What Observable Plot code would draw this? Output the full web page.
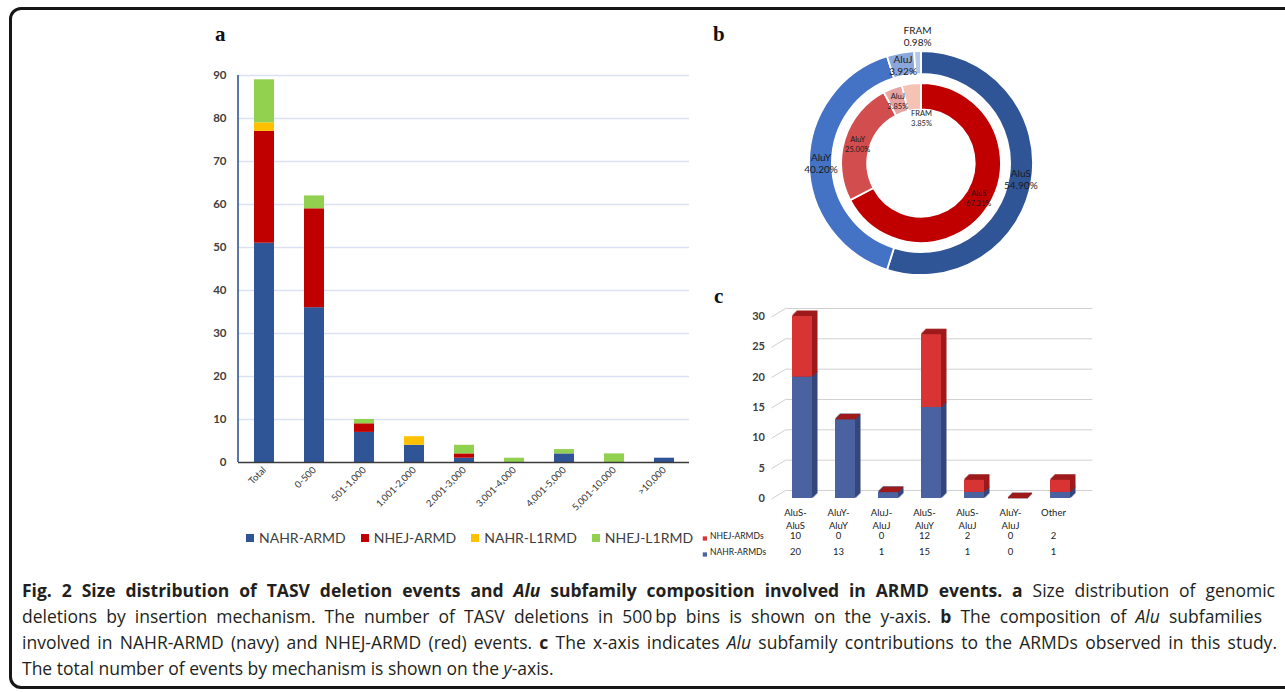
<!DOCTYPE html>
<html><head><meta charset="utf-8">
<script src="https://cdn.jsdelivr.net/npm/d3@7"></script>
<script src="https://cdn.jsdelivr.net/npm/@observablehq/plot@0.6"></script>
<style>
html,body{margin:0;padding:0;background:#fff}
#page{position:relative;width:1285px;height:692px;overflow:hidden;font-family:"Open Sans",Lato,sans-serif;color:#222}
#frame{position:absolute;left:9px;top:7px;width:1330px;height:682px;border:3px solid #161616;border-radius:12px;box-sizing:border-box}
.panel{position:absolute}
.plab{position:absolute;font-family:"Liberation Serif","DejaVu Serif",serif;font-weight:bold;font-size:21px;line-height:1;color:#111}
#legendA{position:absolute;left:246px;top:529px;display:flex;gap:15px;font-family:Lato,sans-serif;font-size:14px;color:#404040;align-items:center;white-space:nowrap}
#legendA .sw{display:inline-block;width:8px;height:8px;margin-right:5px}
.cap{position:absolute;left:22px;font-size:17.5px;line-height:24px;color:#231f20;white-space:nowrap}
.cap b{font-size:17.5px;letter-spacing:0}
.just{text-align:justify;text-align-last:justify}
</style></head>
<body><div id="page">
<div id="frame"></div>
<div class="plab" style="left:215px;top:24px">a</div>
<div class="plab" style="left:713px;top:24px">b</div>
<div class="plab" style="left:714px;top:286px">c</div>
<div id="panelA" class="panel" style="left:180px;top:60px"></div>
<div id="legendA"></div>
<div id="panelB" class="panel" style="left:790px;top:20px"></div>
<div id="panelC" class="panel" style="left:690px;top:300px"></div>
<div class="cap just" style="top:578px;width:1253px"><b>Fig. 2 Size distribution of TASV deletion events and <i>Alu</i> subfamily composition involved in ARMD events. a</b> Size distribution of genomic</div>
<div class="cap just" style="top:604px;width:1240px">deletions by insertion mechanism. The number of TASV deletions in 500&#8201;bp bins is shown on the y-axis. <b>b</b> The composition of <i>Alu</i> subfamilies</div>
<div class="cap just" style="top:630px;width:1255px">involved in NAHR-ARMD (navy) and NHEJ-ARMD (red) events. <b>c</b> The x-axis indicates <i>Alu</i> subfamily contributions to the ARMDs observed in this study.</div>
<div class="cap" style="top:656px">The total number of events by mechanism is shown on the <i>y</i>-axis.</div>
</div>
<script>
// ---------- Panel a data ----------
const sizeBins = ["Total","0-500","501-1,000","1,001-2,000","2,001-3,000","3,001-4,000","4,001-5,000","5,001-10,000",">10,000"];
const mechanisms = ["NAHR-ARMD","NHEJ-ARMD","NAHR-L1RMD","NHEJ-L1RMD"];
const nahrArmd = [51,36,7,4,1,0,2,0,1];
const nhejArmd = [26,23,2,0,1,0,0,0,0];
const nahrL1rmd = [2,0,0,2,0,0,0,0,0];
const nhejL1rmd = [10,3,1,0,2,1,1,2,0];
const mechColors = ["#2F5597","#C00000","#FFC000","#92D050"];
const yTicksA = [0,10,20,30,40,50,60,70,80,90];

// ---------- Panel b data ----------
const subfamilies = ["AluS","AluY","AluJ","FRAM"];
const nahrPct = [54.90,40.20,3.92,0.98];   // outer ring (NAHR-ARMD)
const nhejPct = [67.31,25.00,3.85,3.85];   // inner ring (NHEJ-ARMD)
const outerColors = ["#2F5597","#4472C4","#8AA6DA","#B4C7E7"];
const innerColors = ["#C00000","#D24E4E","#E8A3A3","#F5C3B3"];

// ---------- Panel c data ----------
const pairCats = ["AluS-AluS","AluY-AluY","AluJ-AluJ","AluS-AluY","AluS-AluJ","AluY-AluJ","Other"];
const seriesC = ["NAHR-ARMDs","NHEJ-ARMDs"];
const nahrArmds = [20,13,1,15,1,0,1];
const nhejArmds = [10,0,0,12,2,0,2];
const frontColorsC = ["#4A62A0","#D83434"];
const depthColorsC = ["#33477A","#9E1A1A"];
const yTicksC = [0,5,10,15,20,25,30];

const font = "Lato, 'Open Sans', sans-serif";

// ===== Panel a =====
const seriesA = [nahrArmd, nhejArmd, nahrL1rmd, nhejL1rmd];
const rowsA = mechanisms.flatMap((m, i) => sizeBins.map((b, j) => ({bin: b, mech: m, value: seriesA[i][j]})));
const plotA = Plot.plot({
  width: 520, height: 460,
  marginLeft: 58, marginRight: 11, marginTop: 15, marginBottom: 58,
  style: {fontFamily: font, background: "transparent", color: "#333"},
  x: {domain: sizeBins, paddingInner: 0.6, paddingOuter: 0.3, label: null, axis: null},
  y: {domain: [0, 90], label: null, axis: null},
  color: {domain: mechanisms, range: mechColors},
  marks: [
    Plot.ruleY(yTicksA.filter(d => d > 0), {stroke: "#D9E1F2", strokeWidth: 1.3}),
    Plot.barY(rowsA, {x: "bin", y: "value", fill: "mech"}),
    Plot.ruleY([0], {stroke: "#3a3a3a", strokeWidth: 1.6}),
    (index, scales, values, dim) => {
      const g = d3.create("svg:g");
      g.append("line").attr("x1", dim.marginLeft).attr("x2", dim.marginLeft)
        .attr("y1", scales.y(90)).attr("y2", scales.y(0))
        .attr("stroke", "#2F5597").attr("stroke-width", 1.6);
      return g.node();
    },
    Plot.axisY(yTicksA, {tickSize: 0, tickPadding: 12, fontSize: 11.5, fontWeight: "bold", fill: "#404040", label: null}),
    Plot.axisX({tickSize: 0, tickPadding: 6, tickRotate: -45, fontSize: 9.5, fill: "#333", label: null})
  ]
});
document.getElementById("panelA").append(plotA);

// legend a
const legA = document.getElementById("legendA");
mechanisms.forEach((m, i) => {
  const it = document.createElement("span");
  it.style.display = "inline-flex"; it.style.alignItems = "center";
  const sw = document.createElement("span"); sw.className = "sw"; sw.style.background = mechColors[i];
  it.append(sw, document.createTextNode(m));
  legA.append(it);
});

// ===== Panel b =====
const rings = [
  {names: subfamilies, pct: nahrPct, colors: outerColors, r0: 0.68, r1: 0.855, smallR: 0.975},
  {names: subfamilies, pct: nhejPct, colors: innerColors, r0: 0.41, r1: 0.61, smallR: 0.35}
];
const labelsB = rings.flatMap((ring, ri) => {
  const arcs = d3.pie().sort(null)(ring.pct);
  return arcs.map((a, i) => {
    const isFram = ring.names[i] === "FRAM";
    const ang = isFram && ri === 1 ? a.endAngle : (a.startAngle + a.endAngle) / 2;
    const r = isFram ? ring.smallR : (ring.r0 + ring.r1) / 2;
    return {ring: ri, x: r * Math.sin(ang), y: -r * Math.cos(ang),
            text: `${ring.names[i]}\n${ring.pct[i].toFixed(2)}%`};
  });
});
const plotB = Plot.plot({
  width: 262, height: 274, marginLeft: 0, marginRight: 0, marginTop: 12, marginBottom: 0,
  style: {fontFamily: font, background: "transparent", color: "#1a1a1a"},
  x: {domain: [-1, 1], axis: null},
  y: {domain: [-1, 1], reverse: true, axis: null},
  marks: [
    (index, scales) => {
      const cx = scales.x(0), cy = scales.y(0), k = scales.x(1) - scales.x(0);
      const g = d3.create("svg:g").attr("transform", `translate(${cx},${cy})`);
      for (const ring of rings) {
        const arcs = d3.pie().sort(null)(ring.pct);
        const arc = d3.arc().innerRadius(ring.r0 * k).outerRadius(ring.r1 * k);
        g.append("g").selectAll("path").data(arcs).join("path")
          .attr("d", arc).attr("fill", (d, i) => ring.colors[i])
          .attr("stroke", "#fff").attr("stroke-width", 1.8);
      }
      return g.node();
    },
    Plot.text(labelsB.filter(d => d.ring === 0), {x: "x", y: "y", text: "text", fontSize: 10, lineHeight: 1.2, fill: "#1a1a1a"}),
    Plot.text(labelsB.filter(d => d.ring === 1), {x: "x", y: "y", text: "text", fontSize: 7.5, lineHeight: 1.3, fill: "#1a1a1a"})
  ]
});
document.getElementById("panelB").append(plotB);

// ===== Panel c =====
const rowsC = seriesC.flatMap((s, si) => pairCats.map((c, ci) => {
  const base = si === 0 ? 0 : nahrArmds[ci];
  const v = si === 0 ? nahrArmds[ci] : nhejArmds[ci];
  return {cat: c, series: s, y1: base, y2: base + v};
}));
const depthMarks = (si) => {
  const rows = rowsC.filter(d => d.series === seriesC[si]);
  return [1, 2, 3, 4, 5].flatMap(k => [
    Plot.barY(rows, {x: "cat", y1: "y1", y2: "y2", fill: depthColorsC[si], stroke: depthColorsC[si], strokeWidth: 1, dx: k, dy: -k}),
    Plot.tickY(rows.filter(d => d.y1 === d.y2), {x: "cat", y: "y2", stroke: depthColorsC[si], strokeWidth: 1.5, dx: k, dy: -k})
  ]);
};
const frontMark = (si) => Plot.barY(rowsC.filter(d => d.series === seriesC[si]), {
  x: "cat", y1: "y1", y2: "y2", fill: frontColorsC[si]
});
const tableRows = [
  {name: seriesC[1], vals: nhejArmds, color: frontColorsC[1], dy: 40},
  {name: seriesC[0], vals: nahrArmds, color: frontColorsC[0], dy: 56}
];
const plotC = Plot.plot({
  width: 410, height: 265, marginLeft: 89.4, marginRight: 17.6, marginTop: 16, marginBottom: 67,
  style: {fontFamily: font, background: "transparent", color: "#222"},
  x: {domain: pairCats, paddingInner: 0.54, paddingOuter: 0.27, axis: null},
  y: {domain: [0, 30], axis: null},
  marks: [
    Plot.ruleY(yTicksC, {stroke: "#D0D0D0", strokeWidth: 1, dy: -8, insetLeft: 7, insetRight: -10}),
    (index, scales, values, dim) => {
      const g = d3.create("svg:g").attr("stroke", "#D0D0D0").attr("stroke-width", 1);
      for (const t of yTicksC) {
        g.append("line").attr("x1", dim.marginLeft - 8).attr("y1", scales.y(t) + 1)
          .attr("x2", dim.marginLeft + 7).attr("y2", scales.y(t) - 8);
      }
      return g.node();
    },
    ...depthMarks(0), frontMark(0),
    ...depthMarks(1), frontMark(1),
    Plot.axisY(yTicksC, {tickSize: 0, tickPadding: 15, fontSize: 11, fontWeight: "bold", fill: "#404040", label: null}),
    Plot.text(pairCats, {x: d => d, text: d => d.includes("-") ? d.replace("-", "-\n") : d,
      frameAnchor: "bottom", lineAnchor: "top", dy: 8, dx: -7, fontSize: 9.5, lineHeight: 1.4, fill: "#222"}),
    ...tableRows.map(r => Plot.text(pairCats, {x: d => d, text: (d, i) => String(r.vals[i]),
      frameAnchor: "bottom", dy: r.dy, dx: -7, fontSize: 9.5, fill: "#222"})),
    ...tableRows.map(r => Plot.text([r.name], {text: d => d, frameAnchor: "bottom-left", textAnchor: "start",
      dx: -70, dy: r.dy, fontSize: 8.5, fill: "#222"})),
    ...tableRows.map(r => Plot.dot([r.name], {frameAnchor: "bottom-left", symbol: "square", r: 2.4,
      fill: r.color, dx: -75, dy: r.dy}))
  ]
});
document.getElementById("panelC").append(plotC);
</script>
</body></html>
